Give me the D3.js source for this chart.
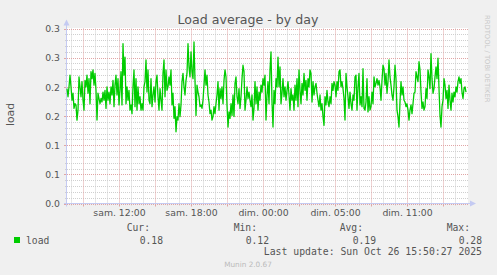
<!DOCTYPE html>
<html><head><meta charset="utf-8">
<script src="https://cdn.jsdelivr.net/npm/d3@7"></script>
<style>
html,body{margin:0;padding:0;background:#f0f0f0;}
svg{display:block;}
</style></head>
<body>
<svg id="chart" width="497" height="275"></svg>
<script>
// ---- data (5-minute samples, load average) ----
const loadPart1 = [
0.197,0.183,0.200,0.220,0.200,0.177,0.189,0.163,0.171,0.169,
0.143,0.160,0.217,0.200,0.183,0.209,0.177,0.160,0.211,0.200,
0.220,0.189,0.214,0.171,0.226,0.214,0.229,0.203,0.223,0.194,
0.143,0.189,0.180,0.171,0.180,0.174,0.191,0.177,0.194,0.163,
0.200,0.177,0.191,0.171,0.200,0.186,0.211,0.166,0.203,0.220,
0.186,0.214,0.169,0.194,0.226,0.169,0.274,0.220,0.251,0.171,
0.200,0.177,0.194,0.160,0.169,0.154,0.200,0.229,0.166,0.214,
0.160,0.200,0.171,0.183,0.160,0.171,0.160,0.200,0.209,0.246,
0.191,0.229,0.177,0.171,0.214,0.166,0.186,0.200,0.174,0.209,
0.220,0.183,0.160,0.197,0.177,0.160,0.223,0.246,0.183,0.229,
0.194,0.200,0.217,0.203,0.229,0.169,0.189,0.146,0.166,0.123,
0.149,0.143,0.171,0.149,0.169,0.209,0.223,0.200,0.186,0.211,
0.223,0.274,0.234,0.217,0.260,0.226,0.214,0.277,0.211,0.151,
0.203,0.191,0.183,0.166];
const loadPart2 = [
0.169,0.163,0.177,0.203,0.229,0.203,0.220,0.186,0.174,0.154,
0.160,0.143,0.149,0.166,0.154,0.171,0.186,0.209,0.160,0.197,
0.180,0.200,0.171,0.211,0.229,0.217,0.169,0.131,0.157,0.146,
0.171,0.151,0.186,0.149,0.206,0.217,0.183,0.171,0.197,0.163,
0.183,0.214,0.237,0.226,0.160,0.177,0.200,0.180,0.191,0.177,
0.166,0.186,0.143,0.163,0.209,0.171,0.200,0.160,0.191,0.177,
0.203,0.191,0.214,0.203,0.220,0.143,0.186,0.209,0.171,0.229,
0.260,0.174,0.131,0.194,0.171,0.214,0.200,0.251,0.200,0.234,
0.171,0.189,0.214,0.183,0.200,0.177,0.194,0.209,0.186,0.160,
0.197,0.177,0.186,0.160,0.203,0.177,0.214,0.166,0.229,0.194,
0.171,0.206,0.186,0.223,0.194,0.211,0.177,0.214,0.200,0.229,
0.223,0.174,0.209,0.186,0.200,0.206,0.189,0.177,0.166,0.186,
0.160,0.171,0.149,0.134,0.183,0.169,0.194,0.174,0.166,0.183,
0.171,0.206,0.194,0.209,0.203,0.183,0.209,0.194,0.226];
const loadPart3 = [
0.229,0.200,0.209,0.197,0.180,0.143,0.223,0.200,0.183,0.163,
0.191,0.171,0.160,0.186,0.177,0.217,0.220,0.160,0.200,0.223,
0.169,0.183,0.166,0.231,0.163,0.160,0.174,0.214,0.157,0.183,
0.160,0.166,0.191,0.171,0.217,0.200,0.206,0.214,0.203,0.211,
0.200,0.177,0.211,0.237,0.231,0.203,0.223,0.189,0.209,0.246,
0.217,0.203,0.186,0.177,0.200,0.237,0.214,0.160,0.149,0.131,
0.174,0.209,0.186,0.200,0.177,0.174,0.166,0.171,0.160,0.143,
0.160,0.169,0.154,0.171,0.189,0.191,0.226,0.217,0.209,0.243,
0.229,0.191,0.163,0.174,0.160,0.166,0.197,0.180,0.229,0.217,
0.197,0.257,0.214,0.189,0.197,0.217,0.234,0.214,0.249,0.197,
0.151,0.131,0.166,0.177,0.214,0.203,0.180,0.194,0.163,0.203,
0.177,0.160,0.189,0.174,0.191,0.183,0.200,0.191,0.209,0.217,
0.206,0.214,0.191,0.180,0.197,0.200,0.191];
const loadValues = loadPart1.concat(loadPart2, loadPart3);

// time axis in elapsed hours since Saturday 00:00
const startHour = 7 + 40/60;      // sam. 07:40
const stepHours = 5/60;           // 5-minute samples
const spanHours = 400 * stepHours;
const xLabelHours = [12, 18, 24, 30, 36];
const xLabels = ["sam. 12:00", "sam. 18:00", "dim. 00:00", "dim. 05:00", "dim. 11:00"];

const yTickValues = [0, 0.05, 0.10, 0.15, 0.20, 0.25, 0.30];
const yTickLabels = ["0.0", "0.1", "0.1", "0.2", "0.2", "0.3", "0.3"];

const seriesName = "load";
const statNames = ["Cur:", "Min:", "Avg:", "Max:"];
const statValues = ["0.18", "0.12", "0.19", "0.28"];
const title = "Load average - by day";
const yTitle = "load";
const lastUpdate = "Last update: Sun Oct 26 15:50:27 2025";
const watermark = "RRDTOOL / TOBI OETIKER";
const footer = "Munin 2.0.67";

// ---- drawing ----
const svg = d3.select("#chart");
const L = 67, R = 467, T = 28.5, B = 203.5;
const x = d3.scaleLinear().domain([startHour, startHour + spanHours]).range([L, R]);
const y = d3.scaleLinear().domain([0, 0.3]).range([B, T]);

const axisCol = "#c4caf2", minorCol = "#cfcfcf", majorCol = "#e0a5a5";
const textCol = "#555";
const sans = "'DejaVu Sans', sans-serif", mono = "'DejaVu Sans Mono', monospace";

svg.append("rect").attr("x", L).attr("y", T - 0.5).attr("width", R - L + 1).attr("height", B - T + 0.5).attr("fill", "#fff");

const g = svg.append("g");
// minor horizontal grid (0.01)
const yMinor = d3.range(1, 30).filter(i => i % 5 !== 0).map(i => i / 100);
yMinor.forEach(v => {
  const yy = Math.round(y(v)) + 0.5;
  g.append("line").attr("x1", L).attr("x2", R + 2).attr("y1", yy).attr("y2", yy)
    .attr("stroke", minorCol).attr("stroke-dasharray", "1,1");
  g.append("line").attr("x1", L - 2).attr("x2", L).attr("y1", yy).attr("y2", yy).attr("stroke", minorCol);
});
// minor vertical grid (1 hour)
const hourTicks = d3.range(Math.ceil(startHour), startHour + spanHours, 1);
hourTicks.filter(h => h % 3 !== 0).forEach(h => {
  const xx = Math.round(x(h)) + 0.5;
  g.append("line").attr("x1", xx).attr("x2", xx).attr("y1", T).attr("y2", B)
    .attr("stroke", minorCol).attr("stroke-dasharray", "1,1");
  g.append("line").attr("x1", xx).attr("x2", xx).attr("y1", B).attr("y2", B + 2).attr("stroke", minorCol);
});
// major grid
yTickValues.forEach(v => {
  const yy = Math.round(y(v)) + 0.5;
  g.append("line").attr("x1", L).attr("x2", R + 2).attr("y1", yy).attr("y2", yy)
    .attr("stroke", majorCol).attr("stroke-dasharray", "1,1");
  g.append("line").attr("x1", L - 3).attr("x2", L).attr("y1", yy).attr("y2", yy).attr("stroke", majorCol);
});
hourTicks.filter(h => h % 3 === 0).forEach(h => {
  const xx = Math.round(x(h)) + 0.5;
  g.append("line").attr("x1", xx).attr("x2", xx).attr("y1", T).attr("y2", B)
    .attr("stroke", majorCol).attr("stroke-dasharray", "1,1");
  g.append("line").attr("x1", xx).attr("x2", xx).attr("y1", B).attr("y2", B + 3).attr("stroke", majorCol);
});

// axes lines + arrows
svg.append("line").attr("x1", L - 3).attr("x2", R + 4).attr("y1", B).attr("y2", B).attr("stroke", axisCol);
svg.append("line").attr("x1", L - 0.5).attr("x2", L - 0.5).attr("y1", B + 3).attr("y2", T - 4).attr("stroke", axisCol);
svg.append("path").attr("d", `M${R + 3},${B - 3}L${R + 9},${B}L${R + 3},${B + 3}Z`).attr("fill", axisCol);
svg.append("path").attr("d", `M${L - 3.5},${T - 3}L${L - 0.5},${T - 9}L${L + 2.5},${T - 3}Z`).attr("fill", axisCol);

// data line
const line = d3.line().x((d, i) => x(startHour + i * stepHours)).y(d => y(d));
svg.append("path").datum(loadValues).attr("d", line)
  .attr("fill", "none").attr("stroke", "#00cc00").attr("stroke-width", 1.3).attr("stroke-linejoin", "round");

// axis labels via d3 axes
const xAxis = d3.axisBottom(x).tickValues(xLabelHours).tickFormat((d, i) => xLabels[i]).tickSize(0);
const xg = svg.append("g").attr("transform", `translate(0,${B})`).call(xAxis);
xg.select(".domain").remove();
xg.selectAll("text").attr("y", 12.5).attr("dy", 0).attr("fill", textCol)
  .style("font-family", sans).style("font-size", "9.3px");

const yAxis = d3.axisLeft(y).tickValues(yTickValues).tickFormat((d, i) => yTickLabels[i]).tickSize(0);
const yg = svg.append("g").attr("transform", `translate(${L},0)`).call(yAxis);
yg.select(".domain").remove();
yg.selectAll("text").attr("x", -7).attr("dy", "0.35em").attr("fill", textCol)
  .style("font-family", sans).style("font-size", "9.3px");

// titles
svg.append("text").attr("x", 248).attr("y", 24).attr("text-anchor", "middle")
  .attr("fill", textCol).style("font-family", sans).style("font-size", "12.6px").text(title);
svg.append("text").attr("transform", "translate(13.5,114.5) rotate(-90)").attr("text-anchor", "middle")
  .attr("fill", textCol).style("font-family", sans).style("font-size", "10.8px").text(yTitle);
svg.append("text").attr("transform", "translate(485,15) rotate(90)")
  .attr("fill", "#c8c8c8").style("font-family", sans).style("font-size", "6.8px").text(watermark);

// legend
svg.append("rect").attr("x", 14).attr("y", 237).attr("width", 6).attr("height", 6).attr("fill", "#00cc00");
svg.append("text").attr("x", 26).attr("y", 243.5).attr("fill", textCol)
  .style("font-family", mono).style("font-size", "9.7px").text(seriesName);
const headerEnds = [150, 257, 363, 470];
const valueEnds = [163, 269, 376, 482];
statNames.forEach((s, i) => {
  svg.append("text").attr("x", headerEnds[i]).attr("y", 231).attr("text-anchor", "end").attr("fill", textCol)
    .style("font-family", mono).style("font-size", "9.7px").text(s);
  svg.append("text").attr("x", valueEnds[i]).attr("y", 243.5).attr("text-anchor", "end").attr("fill", textCol)
    .style("font-family", mono).style("font-size", "9.7px").text(statValues[i]);
});
svg.append("text").attr("x", 482).attr("y", 255).attr("text-anchor", "end").attr("fill", textCol)
  .style("font-family", mono).style("font-size", "9.8px").text(lastUpdate);
svg.append("text").attr("x", 248).attr("y", 267).attr("text-anchor", "middle").attr("fill", "#bbb")
  .style("font-family", sans).style("font-size", "7.3px").text(footer);
</script>
</body></html>
